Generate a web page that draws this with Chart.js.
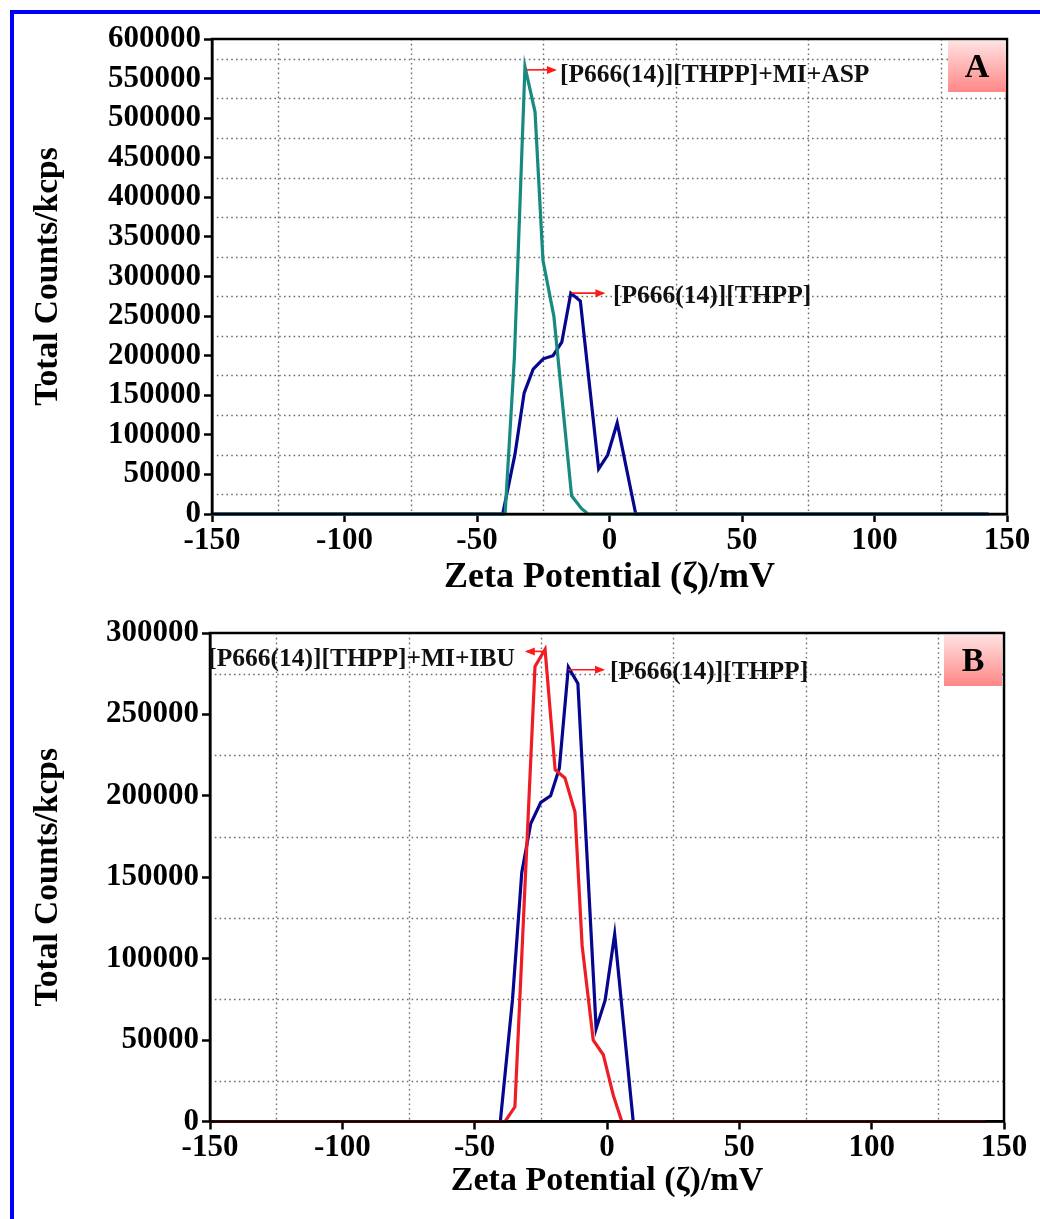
<!DOCTYPE html>
<html>
<head>
<meta charset="utf-8">
<script src="https://cdn.jsdelivr.net/npm/chart.js@4.4.1/dist/chart.umd.min.js"></script>
<style>
  html, body { margin: 0; padding: 0; background: #ffffff; }
  body { width: 1040px; height: 1219px; position: relative; overflow: hidden; }
  #frame { position: absolute; left: 10px; top: 10px; right: -20px; bottom: -20px;
           border-top: 4px solid #0000ff; border-left: 4px solid #0000ff; }
  .wrap { position: absolute; left: 0; width: 1040px; }
  canvas { display: block; }
</style>
</head>
<body>
<div id="frame"></div>
<div class="wrap" style="top:0;height:600px;"><canvas id="chartA" width="1040" height="600"></canvas></div>
<div class="wrap" style="top:600px;height:619px;"><canvas id="chartB" width="1040" height="619"></canvas></div>
<script>
// ---------- Data ----------
// Zeta potential (mV) / total counts (kcps)
const thppX   = [-150, -40.3, -35.7, -32.2, -28.8, -25.0, -21.3, -18.0, -14.6, -11.0, -4.1, -0.7, 2.9, 9.9, 143];
const thppY   = [0, 0, 75000, 153000, 183000, 196000, 200000, 217000, 279000, 269000, 57000, 74500, 115000, 0, 0];

const aspX    = [-150, -39.4, -35.9, -31.9, -28.1, -25.1, -21.0, -14.3, -10.6, -8.1, 143];
const aspY    = [0, 0, 197000, 565000, 508000, 320000, 250000, 23000, 7000, 0, 0];

const ibuX    = [-150, -38.5, -34.8, -27.2, -23.4, -19.6, -15.9, -12.1, -9.4, -5.2, -1.4, 2.4, 5.6, 143];
const ibuY    = [0, 0, 9000, 279500, 290000, 216000, 211000, 190000, 108000, 50000, 41000, 16000, 0, 0];

const xTicks  = [-150, -100, -50, 0, 50, 100, 150];
const yTicksA = [0, 50000, 100000, 150000, 200000, 250000, 300000, 350000, 400000, 450000, 500000, 550000, 600000];
const yTicksB = [0, 50000, 100000, 150000, 200000, 250000, 300000];

const labelThpp = '[P666(14)][THPP]';
const labelAsp  = '[P666(14)][THPP]+MI+ASP';
const labelIbu  = '[P666(14)][THPP]+MI+IBU';
const xTitle = 'Zeta Potential (\u03B6)/mV';
const yTitle = 'Total Counts/kcps';

// ---------- helpers ----------
const SERIF = '"Liberation Serif", "Times New Roman", Times, serif';
const NAVY = '#06068f';
const TEAL = '#168a80';
const RED  = '#ee1c24';

function pts(xs, ys) { return xs.map((x, i) => ({ x: x, y: ys[i] })); }

function ds(label, xs, ys, color) {
  return {
    label: label, data: pts(xs, ys), borderColor: color, backgroundColor: color,
    borderWidth: 3.2, pointRadius: 0, tension: 0, clip: 6, fill: false
  };
}

const decorPlugin = {
  id: 'decor',
  beforeDatasetsDraw(chart) {
    const { ctx, chartArea: ca, scales } = chart;
    const o = chart.options.plugins.decor;
    ctx.save();
    ctx.strokeStyle = '#6e6e6e';
    ctx.lineWidth = 1.4;
    ctx.setLineDash([1.6, 3.2]);
    o.gridX.forEach(v => {
      const px = Math.round(scales.x.getPixelForValue(v)) + 0.5;
      ctx.beginPath(); ctx.moveTo(px, ca.top); ctx.lineTo(px, ca.bottom); ctx.stroke();
    });
    o.gridY.forEach(v => {
      const py = Math.round(scales.y.getPixelForValue(v)) + 0.5;
      ctx.beginPath(); ctx.moveTo(ca.left, py); ctx.lineTo(ca.right, py); ctx.stroke();
    });
    ctx.restore();
  },
  afterDatasetsDraw(chart) {
    const { ctx, chartArea: ca, scales } = chart;
    const o = chart.options.plugins.decor;
    ctx.save();
    // plot frame
    ctx.strokeStyle = '#000';
    ctx.lineWidth = 2.5;
    ctx.setLineDash([]);
    ctx.strokeRect(ca.left, ca.top, ca.right - ca.left, ca.bottom - ca.top);
    // annotations (arrow + label)
    o.notes.forEach(n => {
      const x1 = scales.x.getPixelForValue(n.x1), y1 = scales.y.getPixelForValue(n.y);
      const x2 = scales.x.getPixelForValue(n.x2);
      ctx.strokeStyle = '#ff1a1a'; ctx.fillStyle = '#ff1a1a'; ctx.lineWidth = 1.6;
      ctx.beginPath(); ctx.moveTo(x1, y1); ctx.lineTo(x2, y1); ctx.stroke();
      const dir = x2 > x1 ? 1 : -1;
      ctx.beginPath();
      ctx.moveTo(x2 + dir * 2, y1);
      ctx.lineTo(x2 - dir * 8, y1 - 4);
      ctx.lineTo(x2 - dir * 8, y1 + 4);
      ctx.closePath(); ctx.fill();
      const tx = scales.x.getPixelForValue(n.tx), ty = scales.y.getPixelForValue(n.ty);
      ctx.fillStyle = '#111';
      ctx.font = 'bold 25.5px ' + SERIF;
      ctx.textAlign = n.align; ctx.textBaseline = 'middle';
      ctx.fillText(n.text, tx, ty);
    });
    // panel letter box
    const bw = 58, bh = 51;
    const bx = ca.right - bw - o.boxInset, by = ca.top + 2;
    const g = ctx.createLinearGradient(0, by, 0, by + bh);
    g.addColorStop(0, '#ffe1e1'); g.addColorStop(1, '#ff8787');
    ctx.fillStyle = g;
    ctx.fillRect(bx, by, bw, bh);
    ctx.fillStyle = '#000';
    ctx.font = 'bold 34px ' + SERIF;
    ctx.textAlign = 'center'; ctx.textBaseline = 'middle';
    ctx.fillText(o.letter, bx + bw / 2, by + bh / 2 + 2);
    ctx.restore();
  }
};

function makeChart(id, cfg) {
  return new Chart(document.getElementById(id), {
    type: 'line',
    data: { datasets: cfg.datasets },
    plugins: [decorPlugin],
    options: {
      responsive: false, animation: false, devicePixelRatio: 1,
      layout: { padding: cfg.padding },
      plugins: {
        legend: { display: false }, tooltip: { enabled: false },
        decor: cfg.decor
      },
      scales: {
        x: {
          type: 'linear', min: -150, max: 150,
          afterBuildTicks: s => { s.ticks = xTicks.map(v => ({ value: v })); },
          afterFit: s => { s.height = cfg.xHeight; },
          border: { display: true, color: '#000', width: 2.5 },
          grid: { display: true, drawOnChartArea: false, drawTicks: true, tickLength: 8,
                  tickColor: '#000', tickWidth: 2.5 },
          ticks: { color: '#000', padding: 0, maxRotation: 0, autoSkip: false,
                   font: { family: SERIF, size: 31, weight: 'bold' },
                   callback: v => String(v) },
          title: { display: true, text: xTitle, color: '#000',
                   font: { family: SERIF, size: cfg.xTitleSize, weight: 'bold' },
                   padding: { top: 0, bottom: cfg.xTitlePad } }
        },
        y: {
          type: 'linear', min: 0, max: cfg.yMax,
          afterBuildTicks: s => { s.ticks = cfg.yTicks.map(v => ({ value: v })); },
          afterFit: s => { s.width = cfg.yWidth; },
          border: { display: true, color: '#000', width: 2.5 },
          grid: { display: true, drawOnChartArea: false, drawTicks: true, tickLength: 8,
                  tickColor: '#000', tickWidth: 2.5 },
          ticks: { color: '#000', padding: 3, autoSkip: false,
                   font: { family: SERIF, size: 31, weight: 'bold' },
                   callback: v => String(v) },
          title: { display: true, text: yTitle, color: '#000',
                   font: { family: SERIF, size: 33.5, weight: 'bold' },
                   padding: { top: 28, bottom: 0 } }
        }
      }
    }
  });
}

makeChart('chartA', {
  datasets: [ds(labelAsp, aspX, aspY, TEAL), ds(labelThpp, thppX, thppY, NAVY)],
  padding: { left: 0, right: 33, top: 39, bottom: 0 },
  xHeight: 86, yWidth: 212, yMax: 600000, yTicks: yTicksA,
  xTitleSize: 36, xTitlePad: 1,
  decor: {
    letter: 'A', boxInset: 1,
    gridX: [-125, -75, -25, 25, 75, 125],
    gridY: [25000, 75000, 125000, 175000, 225000, 275000, 325000, 375000, 425000, 475000, 525000, 575000],
    notes: [
      { x1: -31.4, x2: -20.6, y: 561000, tx: -18.7, ty: 553500, text: labelAsp, align: 'left' },
      { x1: -14.3, x2: -2.3, y: 279000, tx: 1.3, ty: 274500, text: labelThpp, align: 'left' }
    ]
  }
});

makeChart('chartB', {
  datasets: [ds(labelIbu, ibuX, ibuY, RED), ds(labelThpp, thppX, thppY, NAVY)],
  padding: { left: 0, right: 36, top: 33, bottom: 0 },
  xHeight: 97.5, yWidth: 210, yMax: 300000, yTicks: yTicksB,
  xTitleSize: 34, xTitlePad: 17,
  decor: {
    letter: 'B', boxInset: 2,
    gridX: [-125, -75, -25, 25, 75, 125],
    gridY: [25000, 75000, 125000, 175000, 225000, 275000],
    notes: [
      { x1: -23.4, x2: -30.3, y: 288700, tx: -34.8, ty: 283600, text: labelIbu, align: 'right' },
      { x1: -14.6, x2: -1.5, y: 277400, tx: 1.1, ty: 275600, text: labelThpp, align: 'left' }
    ]
  }
});
</script>
</body>
</html>
